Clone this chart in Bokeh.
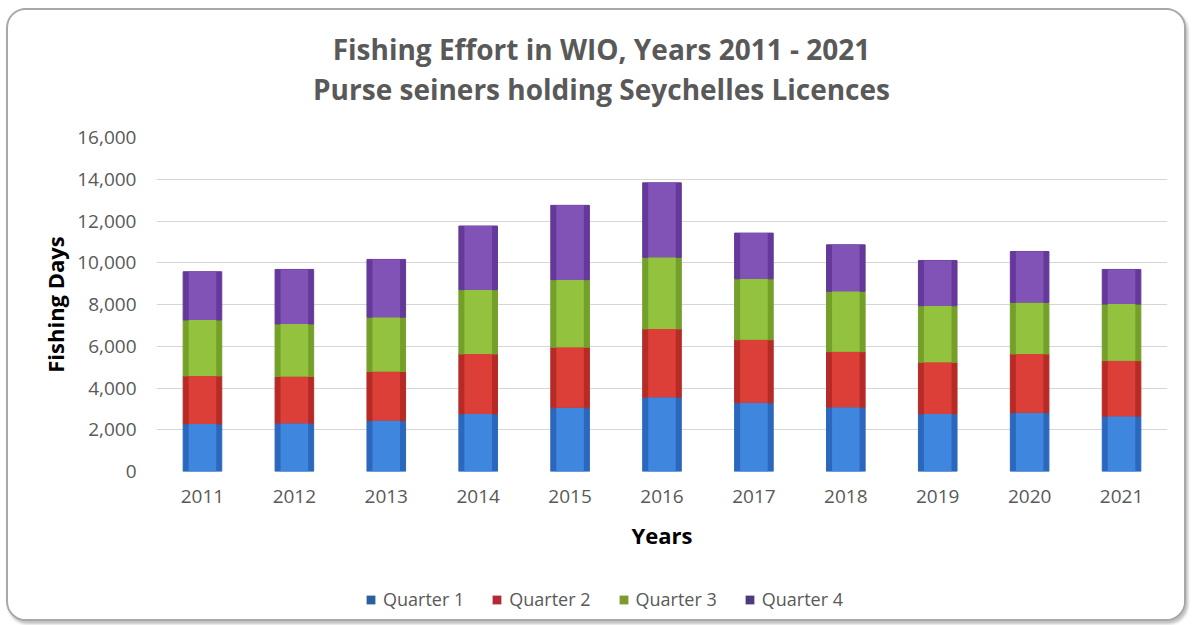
from bokeh.plotting import figure
from bokeh.layouts import column
from bokeh.models import FactorRange, Legend, LegendItem, Label, NumeralTickFormatter, SingleIntervalTicker
from bokeh.embed import file_html
from bokeh.resources import INLINE

years = ["2011", "2012", "2013", "2014", "2015", "2016", "2017", "2018", "2019", "2020", "2021"]
quarter_1 = [2280, 2310, 2440, 2760, 3050, 3560, 3290, 3080, 2760, 2820, 2650]
quarter_2 = [2300, 2240, 2350, 2870, 2900, 3270, 3020, 2660, 2470, 2810, 2660]
quarter_3 = [2680, 2520, 2600, 3080, 3240, 3430, 2920, 2890, 2710, 2470, 2710]
quarter_4 = [2310, 2610, 2770, 3050, 3560, 3570, 2190, 2230, 2170, 2440, 1660]
series_names = ["Quarter 1", "Quarter 2", "Quarter 3", "Quarter 4"]
title_lines = ["Fishing Effort in WIO, Years 2011 - 2021",
               "Purse seiners holding Seychelles Licences"]
outer = ["#2b68bd", "#b72b27", "#74a02a", "#64399a"]
inner = ["#3f86de", "#dc3f38", "#93c23f", "#8253b6"]
legend_cols = ["#2a5f9e", "#b22a35", "#7d9a2c", "#4e3a7e"]

FONT = "Open Sans"
GREY = "#595959"
W = 1176
FRAME_W = 1011   # frame width shared by all rows (Bokeh aligns the frames in a column)


def bare(fig):
    fig.axis.visible = False
    fig.grid.visible = False
    fig.outline_line_color = None
    fig.background_fill_color = "white"
    fig.border_fill_color = "white"
    return fig


data = {"years": years, "Quarter 1": quarter_1, "Quarter 2": quarter_2,
        "Quarter 3": quarter_3, "Quarter 4": quarter_4}

# --- title strip ---
t = bare(figure(width=W, height=112, x_range=(0, FRAME_W), y_range=(0, 112), output_backend="svg",
                toolbar_location=None, min_border=0))
for txt, yy in zip(title_lines, (74, 34)):
    t.add_layout(Label(x=445, y=yy, text=txt, text_align="center", text_baseline="middle",
                       text_font=FONT, text_font_style="bold", text_font_size="28px",
                       text_color=GREY))

# --- chart ---
p = figure(x_range=FactorRange(*years), y_range=(0, 16000),
           width=W, height=434, output_backend="svg", toolbar_location=None,
           min_border_left=148, min_border_right=17, min_border_top=15, min_border_bottom=85)
p.vbar_stack(series_names, x="years", width=0.42, source=data,
             fill_color=outer, line_color=outer, line_width=1)
p.vbar_stack(series_names, x="years", width=0.30, source=data,
             fill_color=inner, line_color=None)

p.background_fill_color = "white"
p.border_fill_color = "white"
p.outline_line_color = None
p.xgrid.grid_line_color = None
p.ygrid.grid_line_color = "#d6d6d6"
p.ygrid.grid_line_width = 1
p.yaxis.ticker = SingleIntervalTicker(interval=2000)
p.yaxis.formatter = NumeralTickFormatter(format="0,0")

for ax in (p.xaxis[0], p.yaxis[0]):
    ax.axis_line_color = None
    ax.major_tick_line_color = None
    ax.major_tick_out = 0
    ax.major_tick_in = 0
    ax.minor_tick_line_color = None
    ax.major_label_text_font = FONT
    ax.major_label_text_font_size = "19px"
    ax.major_label_text_color = GREY
    ax.axis_label_text_font = FONT
    ax.axis_label_text_font_style = "bold"
    ax.axis_label_text_font_size = "22px"
    ax.axis_label_text_color = "black"

p.xaxis.axis_label = "Years"
p.xaxis.major_label_standoff = 18
p.xaxis.axis_label_standoff = 14
p.yaxis.axis_label = "Fishing Days"
p.yaxis.major_label_standoff = 16
p.yaxis.axis_label_standoff = 4

# --- legend strip (its bars lie below the visible y range; only the legend shows) ---
lg = bare(figure(width=W, height=65, x_range=FactorRange(*years), y_range=(40000, 40001),
                 output_backend="svg", toolbar_location=None, min_border=0))
lrs = lg.vbar_stack(series_names, x="years", width=0.42, source=data,
                    fill_color=legend_cols, line_color=None)
legend = Legend(items=[LegendItem(label=n, renderers=[r]) for n, r in zip(series_names, lrs)],
                orientation="horizontal", location=(209, 10))
legend.glyph_width = 11
legend.glyph_height = 11
legend.label_text_font = FONT
legend.label_text_font_size = "18px"
legend.label_text_color = GREY
legend.label_standoff = 7
legend.spacing = 27
legend.padding = 0
legend.margin = 0
legend.border_line_color = None
legend.background_fill_alpha = 0
lg.add_layout(legend, "center")

page = column(t, p, lg, width=1180, height=613, spacing=0)
page.margin = (8, 0, 0, 6)
page.styles = {"border": "2px solid #a8a8a8", "border-radius": "20px", "background": "white",
               "box-shadow": "2px 3px 3px rgba(0,0,0,0.25)", "overflow": "hidden"}

open("out.html", "w").write(file_html(page, INLINE))
